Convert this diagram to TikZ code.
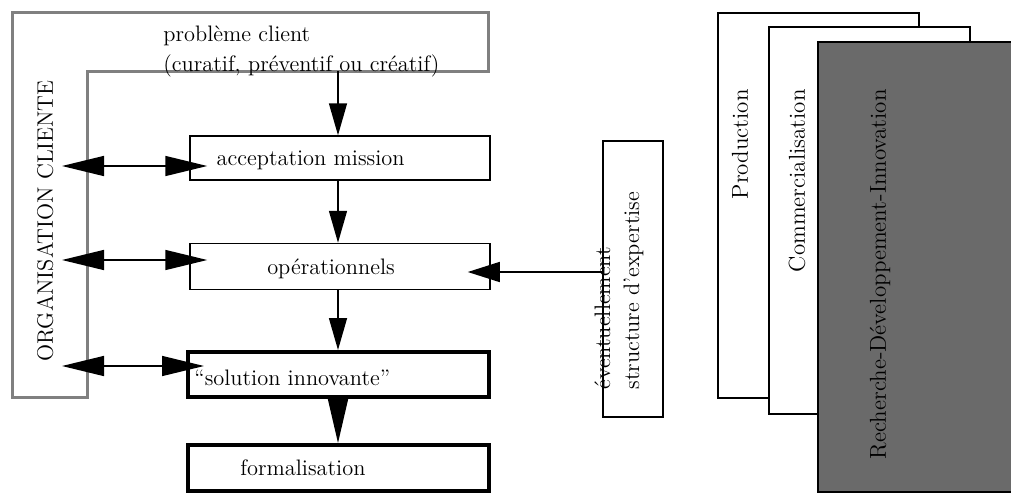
\documentclass[tikz,border=0pt]{standalone}
\usetikzlibrary{arrows.meta,positioning}
\definecolor{grisCadre}{RGB}{128,128,128}
\definecolor{grisRDI}{RGB}{106,106,106}

\begin{document}
\begin{tikzpicture}[x=0.5pt,y=-0.5pt,
    font=\fontsize{11.2}{13}\selectfont,
    etape/.style={draw, line width=0.75pt, minimum width=150pt, minimum height=22pt, inner sep=0pt},
    etapeforte/.style={draw, line width=2pt, minimum width=150.5pt, minimum height=22.5pt, inner sep=0pt},
    volet/.style={draw, line width=0.75pt, fill=white, minimum width=100.5pt, inner sep=0pt},
    texte/.style={inner sep=0pt},
    textevolet/.style={inner sep=0pt, rotate=90, anchor=east, font=\fontsize{11.5}{13}\selectfont},
    fleche/.style={-{Triangle[length=16pt,width=9pt]}, line width=0.75pt},
    dfleche/.style={{Triangle[length=21pt,width=10pt]}-{Triangle[length=21pt,width=10pt]}, line width=0.75pt},
    grossefleche/.style={-{Triangle[length=22pt,width=10pt]}, line width=0.75pt}]

  \useasboundingbox (0,0) rectangle (1011,494);

  % organisation cliente
  \draw[draw=grisCadre, line width=1.5pt] (12,12) -- (488,12) -- (488,71) -- (87,71) -- (87,397) -- (12,397) -- cycle;
  \node[texte, rotate=90] (orgT) at (45,221) {ORGANISATION CLIENTE};
  \node[texte, anchor=north west, align=left, font=\fontsize{11.2}{15}\selectfont] (pbT) at (163,25) {problème client\\(curatif, préventif ou créatif)};
  \coordinate (pb) at (338,71);

  % etapes de la mission
  \node[etape] (acc) at (340,158) {};
  \node[etape, minimum height=23pt] (op) at (340,266.5) {};
  \node[etapeforte] (sol) at (338.5,374.5) {};
  \node[etapeforte, minimum height=23pt] (form) at (338.5,468) {};
  \node[texte, anchor=west] (accT) at ([xshift=13.5pt,yshift=-1pt]acc.west) {acceptation mission};
  \node[texte] (opT) at ([xshift=-4.5pt,yshift=-1pt]op.center) {opérationnels};
  \node[texte, anchor=west] (solT) at ([xshift=4pt,yshift=-1.5pt]sol.west) {``solution innovante''};
  \node[texte, anchor=west] (formT) at ([xshift=27pt]form.west) {formalisation};

  \draw[fleche] (pb) -- (pb |- acc.north);
  \draw[fleche] (pb |- acc.south) -- (pb |- op.north);
  \draw[fleche] (pb |- op.south) -- (pb |- sol.north);
  \draw[grossefleche] (pb |- sol.south) -- (pb |- form.north);

  \foreach \y/\n in {166/acc, 260/op, 366/sol}{
    \coordinate (g\n) at (87,\y);
    \draw[dfleche, shorten <=-12.5pt, shorten >=-9pt] (g\n) -- (g\n -| \n.west);
  }

  % structure d'expertise
  \node[draw, line width=0.75pt, minimum width=30pt, minimum height=138pt, inner sep=0pt] (exp) at (633,279) {};
  \node[texte, rotate=90, anchor=west, align=left, font=\fontsize{11.2}{14.5}\selectfont] (expT) at (619,390) {éventuellement\\structure d'expertise};
  \coordinate (e1) at (602,272);
  \draw[fleche, -{Triangle[length=16pt,width=10pt]}, shorten >=-11.5pt] (e1) -- (e1 -| op.east);

  % fonctions de l'entreprise
  \node[volet, minimum height=192.5pt] (prod) at (818.5,205.5) {};
  \node[volet, minimum height=193.5pt] (comm) at (869.5,220.5) {};
  \node[volet, fill=grisRDI, minimum width=97.5pt, minimum height=225pt] (rdi) at (915.5,267) {};
  \node[textevolet] (prodT) at (740,89) {Production};
  \node[textevolet] (commT) at (797,89) {Commercialisation};
  \node[textevolet] (rdiT) at (880,89) {Recherche-Développement-Innovation};
\end{tikzpicture}
\end{document}
